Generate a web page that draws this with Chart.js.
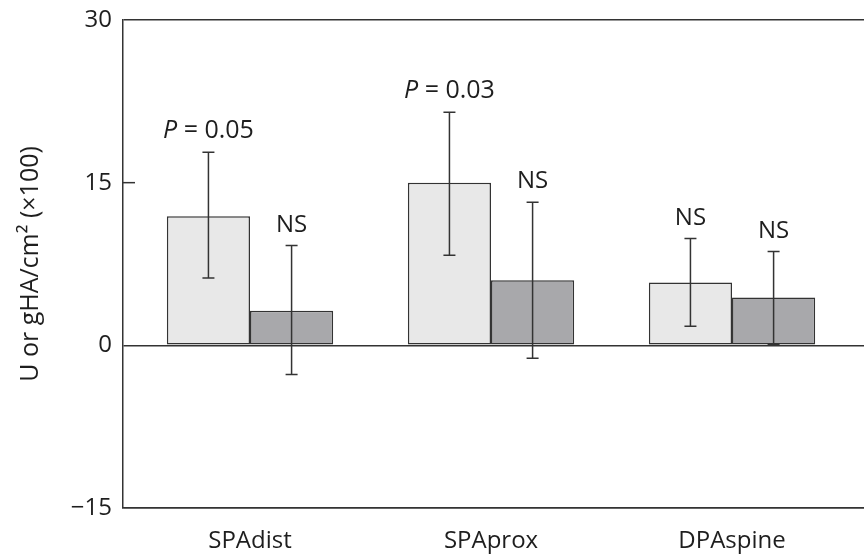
<!DOCTYPE html>
<html>
<head>
<meta charset="utf-8">
<script src="https://cdn.jsdelivr.net/npm/chart.js@4.4.1/dist/chart.umd.min.js"></script>
<style>
  html, body { margin: 0; padding: 0; overflow: hidden; background: #fff; }
  #wrap { width: 900px; height: 554px; }
</style>
</head>
<body>
<div id="wrap"><canvas id="myChart"></canvas></div>
<script>
const categories = ['SPAdist', 'SPAprox', 'DPAspine'];
const lightValues = [11.9, 15.0, 5.8];
const lightLow = [6.2, 8.3, 1.75];
const lightHigh = [17.8, 21.5, 9.85];
const darkValues = [3.2, 6.0, 4.4];
const darkLow = [-2.7, -1.2, 0.1];
const darkHigh = [9.2, 13.2, 8.65];
const lightNotes = ['P = 0.05', 'P = 0.03', 'NS'];
const darkNotes = ['NS', 'NS', 'NS'];
const yTicks = [-15, 0, 15, 30];

const ink = '#333333';
const textInk = '#1e1e1e';
const font = '"Open Sans", "Noto Sans", sans-serif';

const errors = [
  { low: lightLow, high: lightHigh, notes: lightNotes },
  { low: darkLow, high: darkHigh, notes: darkNotes }
];

// error bars, inward tick marks and the P / NS notes
const extras = {
  id: 'extras',
  afterDatasetsDraw(chart) {
    const ctx = chart.ctx;
    const y = chart.scales.y;
    ctx.save();
    ctx.strokeStyle = ink;
    ctx.lineWidth = 1.5;
    // tick marks pointing into the plot
    yTicks.forEach(t => {
      if (t === y.min || t === y.max || t === 0) return;
      const py = y.getPixelForValue(t);
      ctx.beginPath();
      ctx.moveTo(y.right, py);
      ctx.lineTo(y.right + 12, py);
      ctx.stroke();
    });
    errors.forEach((e, d) => {
      const meta = chart.getDatasetMeta(d);
      meta.data.forEach((bar, i) => {
        const top = y.getPixelForValue(e.high[i]);
        const bot = y.getPixelForValue(e.low[i]);
        ctx.beginPath();
        ctx.moveTo(bar.x, top); ctx.lineTo(bar.x, bot);
        ctx.moveTo(bar.x - 6, top); ctx.lineTo(bar.x + 6, top);
        ctx.moveTo(bar.x - 6, bot); ctx.lineTo(bar.x + 6, bot);
        ctx.stroke();

        // note above the error bar
        const note = e.notes[i];
        const base = top - 14;
        ctx.fillStyle = textInk;
        ctx.textBaseline = 'alphabetic';
        ctx.textAlign = 'left';
        if (note.startsWith('P')) {
          const rest = note.slice(1);
          ctx.font = 'italic 25px ' + font;
          const wP = ctx.measureText('P').width;
          ctx.font = '25px ' + font;
          const wR = ctx.measureText(rest).width;
          const x0 = bar.x - (wP + wR) / 2;
          ctx.font = 'italic 25px ' + font;
          ctx.fillText('P', x0, base);
          ctx.font = '25px ' + font;
          ctx.fillText(rest, x0 + wP, base);
        } else {
          ctx.font = '24px ' + font;
          ctx.textAlign = 'center';
          ctx.fillText(note, bar.x, base);
        }
      });
    });
    ctx.restore();
  }
};

const ctx = document.getElementById('myChart').getContext('2d');
new Chart(ctx, {
  type: 'bar',
  data: {
    datasets: [
      {
        data: lightValues.map((v, i) => ({ x: i, y: v })),
        backgroundColor: '#e8e8e8',
        borderColor: ink,
        borderWidth: 1.5,
        borderSkipped: false
      },
      {
        data: darkValues.map((v, i) => ({ x: i, y: v })),
        backgroundColor: '#a8a8ab',
        borderColor: ink,
        borderWidth: 1.5,
        borderSkipped: false
      }
    ]
  },
  options: {
    responsive: true,
    maintainAspectRatio: false,
    animation: false,
    layout: { padding: { top: 20, left: 0, right: 0, bottom: 0 } },
    categoryPercentage: 0.69,
    barPercentage: 1.0,
    plugins: {
      legend: { display: false },
      tooltip: { enabled: false }
    },
    scales: {
      x: {
        type: 'linear',
        offset: false,
        min: -0.527,
        max: 2.697,
        afterBuildTicks: s => { s.ticks = categories.map((c, i) => ({ value: i })); },
        afterFit: s => { s.height = 46; },
        ticks: {
          callback: v => categories[v],
          color: textInk,
          padding: 11,
          maxRotation: 0,
          font: { family: font, size: 24 }
        },
        grid: { display: false },
        border: { display: true, color: ink, width: 1.5 }
      },
      y: {
        min: -15,
        max: 30,
        afterBuildTicks: s => { s.ticks = yTicks.map(v => ({ value: v })); },
        afterFit: s => { s.width = 123; s.paddingTop = 0; s.paddingBottom = 0; },
        ticks: {
          color: textInk,
          padding: 11,
          callback: v => (v < 0 ? '\u2212' + Math.abs(v) : String(v)),
          font: { family: font, size: 24 }
        },
        grid: {
          drawTicks: false,
          lineWidth: 1.5,
          color: c => (c.tick && c.tick.value === 15) ? 'rgba(0,0,0,0)' : ink
        },
        border: { display: true, color: ink, width: 1.5 },
        title: {
          display: true,
          text: 'U or gHA/cm² (×100)',
          color: textInk,
          padding: { top: 16, bottom: 0 },
          font: { family: font, size: 25 }
        }
      }
    }
  },
  plugins: [extras]
});
</script>
</body>
</html>
